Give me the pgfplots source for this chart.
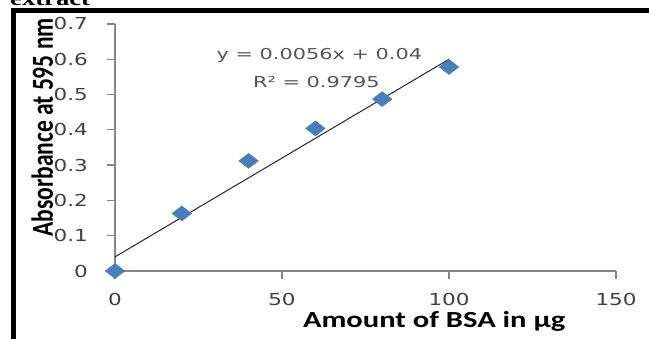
\documentclass[border=0pt]{standalone}
\usepackage{pgfplots}
\pgfplotsset{compat=1.18}
\usepackage{fontspec}
\setmainfont{DejaVu Sans}
\newfontfamily\calfont{Carlito}
\newfontfamily\timesfont{Liberation Serif}
\definecolor{axgray}{HTML}{868686}
\definecolor{tickgray}{HTML}{404040}
\definecolor{eqgray}{HTML}{555555}
\definecolor{dia}{HTML}{4A7EBB}
\newcommand\sx[1]{\scalebox{1.3}[1]{#1}}
\begin{document}
\begin{tikzpicture}[x=1pt,y=1pt]
\useasboundingbox (0,0) rectangle (649,339);
\clip (0,0) rectangle (649,339);
\fill[white] (0,0) rectangle (649,339);
% frame
\fill[black] (10.5,0) rectangle (16,331);
\fill[black] (10.5,325.7) rectangle (649,331);
\node[anchor=base west, inner sep=0pt] at (10,333) {\timesfont\bfseries\fontsize{20.5}{22}\selectfont\sx{extract}};
\begin{axis}[
  at={(115pt,68pt)}, anchor=south west,
  x=3.34pt, y=352.9pt,
  xmin=0, xmax=150, ymin=0, ymax=0.7,
  axis lines*=left,
  axis line style={axgray, line width=1.3pt, -},
  clip=false,
  tick align=outside,
  major tick length=8pt,
  tick style={axgray, line width=1.3pt},
  xtick={0,50,100,150},
  xticklabels={\sx{0},\sx{50},\sx{100},\sx{150}},
  ytick={0,0.1,0.2,0.3,0.4,0.5,0.6,0.7},
  yticklabels={\sx{0},\sx{0.1},\sx{0.2},\sx{0.3},\sx{0.4},\sx{0.5},\sx{0.6},\sx{0.7}},
  xticklabel style={font=\fontsize{16.5}{18}\selectfont, text=tickgray, inner sep=0pt, anchor=north, yshift=-14pt},
  yticklabel style={font=\fontsize{16.5}{18}\selectfont, text=tickgray, inner sep=0pt, anchor=east, xshift=-19pt},
  every axis x label/.style={at={(axis description cs:0.637,-0.227)}, anchor=base},
  every axis y label/.style={at={(axis description cs:-0.1238,0.581)}, rotate=90, anchor=base},
  xlabel={\calfont\bfseries\fontsize{23}{26}\selectfont\scalebox{1.33}[1]{Amount of BSA in µg}},
  ylabel={\calfont\bfseries\fontsize{23.5}{26}\selectfont\scalebox{1}[1.3]{Absorbance at 595 nm}},
]
\addplot[only marks, mark=diamond*, mark size=7.5pt, mark options={fill=dia, draw=dia, xscale=1.75}]
  coordinates {(0,0) (20,0.163) (40,0.312) (60,0.404) (80,0.487) (100,0.578)};
\addplot[black!85, line width=1pt] coordinates {(0,0.04) (100,0.6)};
\node[text=eqgray, font=\fontsize{15}{17}\selectfont, inner sep=0pt] at (axis cs:61.2,0.612) {\scalebox{1.39}[1]{y = 0.0056x + 0.04}};
\node[text=eqgray, font=\fontsize{15}{17}\selectfont, inner sep=0pt] at (axis cs:60.3,0.536) {\scalebox{1.39}[1]{R² = 0.9795}};
\end{axis}
\end{tikzpicture}
\end{document}
